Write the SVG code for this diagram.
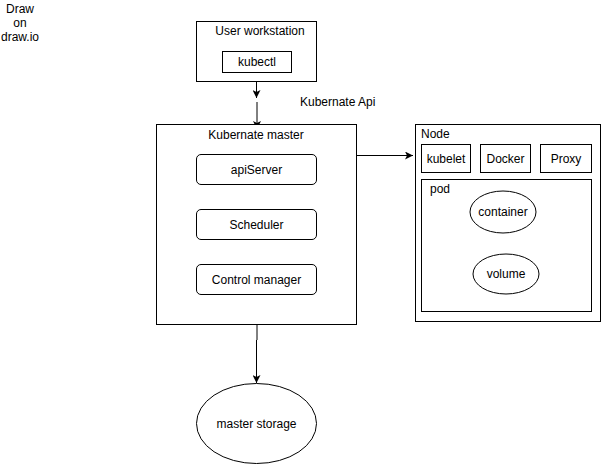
<svg xmlns="http://www.w3.org/2000/svg" width="601" height="465" viewBox="0 0 601 465">
<defs>
<style>
text{font-family:"Liberation Sans",Arial,sans-serif;font-size:12px;fill:#000}
.b{fill:#fff;stroke:#000;stroke-width:1}
.c{text-anchor:middle}
.e{stroke:#000;stroke-width:1;fill:none}
.g{stroke:#000;stroke-width:1;fill:none}
</style>
<marker id="ah" viewBox="0 0 10 10" refX="10" refY="5" markerWidth="8" markerHeight="8" markerUnits="userSpaceOnUse" orient="auto">
<path d="M0,0 L10,5 L0,10 L2.5,5 Z" fill="#000"/>
</marker>
</defs>
<rect width="601" height="465" fill="#fff"/>
<g id="title">
<text class="c" x="20" y="13">Draw</text>
<text class="c" x="20" y="27">on</text>
<text class="c" x="20" y="41">draw.io</text>
</g>
<g id="connectors">
<line class="e" x1="256.5" y1="72" x2="256.5" y2="98" marker-end="url(#ah)"/>
<line class="g" x1="257" y1="102" x2="257" y2="129" marker-end="url(#ah)"/>
<line class="e" x1="356" y1="155.5" x2="413" y2="155.5" marker-end="url(#ah)"/>
<line class="g" x1="257" y1="324" x2="257" y2="340"/>
<line class="e" x1="256.5" y1="340" x2="256.5" y2="383" marker-end="url(#ah)"/>
<text x="300" y="106">Kubernate Api</text>
</g>
<g id="user-workstation">
<rect class="b" x="196.5" y="21.5" width="120" height="60"/>
<text class="c" x="260" y="35">User workstation</text>
</g>
<g id="kubectl">
<rect class="b" x="222.5" y="51.5" width="69" height="21"/>
<text class="c" x="257" y="66">kubectl</text>
</g>
<g id="master">
<rect class="b" x="156.5" y="124.5" width="200" height="200"/>
<text class="c" x="256" y="139">Kubernate master</text>
</g>
<g id="apiServer">
<rect class="b" x="196.5" y="154.5" width="120" height="30" rx="4.5"/>
<text class="c" x="256.5" y="174">apiServer</text>
</g>
<g id="scheduler">
<rect class="b" x="196.5" y="209.5" width="120" height="30" rx="4.5"/>
<text class="c" x="256.5" y="229">Scheduler</text>
</g>
<g id="control-manager">
<rect class="b" x="196.5" y="264.5" width="120" height="30" rx="4.5"/>
<text class="c" x="256.5" y="284">Control manager</text>
</g>
<g id="master-storage">
<ellipse class="b" cx="256.5" cy="423.5" rx="60" ry="40"/>
<text class="c" x="256.5" y="428">master storage</text>
</g>
<g id="node">
<rect class="b" x="415.5" y="124.5" width="185" height="197"/>
<text x="421" y="138">Node</text>
</g>
<g id="kubelet">
<rect class="b" x="421.5" y="144.5" width="49" height="28"/>
<text class="c" x="446" y="163">kubelet</text>
</g>
<g id="docker">
<rect class="b" x="480.5" y="144.5" width="50" height="28"/>
<text class="c" x="505.5" y="163">Docker</text>
</g>
<g id="proxy">
<rect class="b" x="540.5" y="144.5" width="51" height="28"/>
<text class="c" x="566" y="163">Proxy</text>
</g>
<g id="pod">
<rect class="b" x="421.5" y="179.5" width="170" height="132"/>
<text x="430" y="193">pod</text>
</g>
<g id="container">
<ellipse class="b" cx="503" cy="212" rx="33" ry="21"/>
<text class="c" x="503" y="216">container</text>
</g>
<g id="volume">
<ellipse class="b" cx="506" cy="274" rx="33" ry="20"/>
<text class="c" x="506" y="278">volume</text>
</g>
</svg>
